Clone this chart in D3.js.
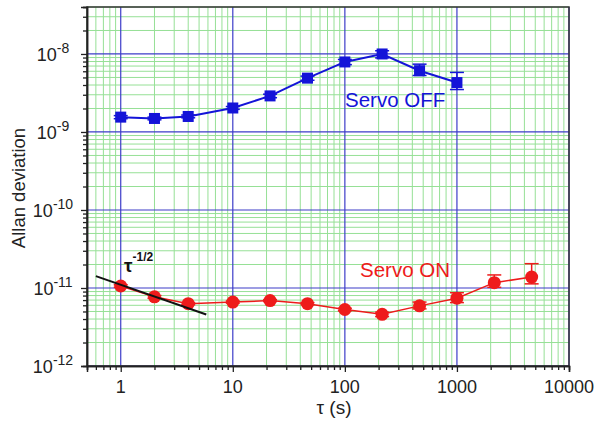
<!DOCTYPE html>
<html>
<head>
<meta charset="utf-8">
<script src="https://cdn.jsdelivr.net/npm/d3@7"></script>
<style>
  body { margin: 0; background: #fff; }
  text { font-family: "Liberation Sans", Arial, sans-serif; }
</style>
</head>
<body>
<div id="chart"></div>
<script>
// averaging times (s)
var tauOff = [1, 2, 4, 10, 21.5, 46.4, 100, 215, 464, 1000];
var devOff = [1.55e-9, 1.49e-9, 1.58e-9, 2.03e-9, 2.9e-9, 4.9e-9, 7.9e-9, 1.0e-8, 6.1e-9, 4.3e-9];
var hiOff  = [1.62e-9, 1.55e-9, 1.65e-9, 2.12e-9, 3.05e-9, 5.2e-9, 8.5e-9, 1.1e-8, 7.4e-9, 5.8e-9];
var loOff  = [1.48e-9, 1.43e-9, 1.52e-9, 1.95e-9, 2.75e-9, 4.6e-9, 7.3e-9, 8.9e-9, 5.3e-9, 3.5e-9];

var tauOn = [1, 2, 4, 10, 21.5, 46.4, 100, 215, 464, 1000, 2154, 4642];
var devOn = [1.06e-11, 7.7e-12, 6.3e-12, 6.6e-12, 6.9e-12, 6.3e-12, 5.3e-12, 4.6e-12, 5.9e-12, 7.4e-12, 1.17e-11, 1.38e-11];
var hiOn  = [1.1e-11, 8.0e-12, 6.5e-12, 6.8e-12, 7.1e-12, 6.5e-12, 5.5e-12, 4.9e-12, 6.6e-12, 8.7e-12, 1.47e-11, 2.05e-11];
var loOn  = [1.02e-11, 7.4e-12, 6.1e-12, 6.4e-12, 6.7e-12, 6.1e-12, 5.1e-12, 4.3e-12, 5.4e-12, 6.5e-12, 1.02e-11, 1.13e-11];

// tau^-1/2 guide line
var slopeTau = [0.6, 5.8];
var slopeA = 1.1e-11;

var xTicks = [1, 10, 100, 1000, 10000];
var yTicks = [1e-12, 1e-11, 1e-10, 1e-9, 1e-8];

var width = 597, height = 424;
var pL = 87, pR = 569, pT = 7, pB = 366;

var svg = d3.select("#chart").append("svg")
    .attr("width", width)
    .attr("height", height);

var x = d3.scaleLog().domain([0.5, 10000]).range([pL, pR]);
var y = d3.scaleLog().domain([1e-12, 4e-8]).range([pB, pT]);

// minor values for grid / ticks
function minors(lo, hi) {
    var out = [];
    for (var e = Math.floor(Math.log10(lo)) - 1; e <= Math.ceil(Math.log10(hi)); e++) {
        for (var k = 2; k <= 9; k++) {
            var v = k * Math.pow(10, e);
            if (v >= lo * 0.999 && v <= hi * 1.001) out.push(v);
        }
    }
    return out;
}
var xMinor = minors(0.5, 10000);
var yMinor = minors(1e-12, 4e-8);

var grid = svg.append("g");
grid.selectAll(".gx").data(xMinor).enter().append("line")
    .attr("x1", d => x(d)).attr("x2", d => x(d))
    .attr("y1", pT).attr("y2", pB)
    .style("stroke", "#96e096").style("stroke-width", 1);
grid.selectAll(".gy").data(yMinor).enter().append("line")
    .attr("y1", d => y(d)).attr("y2", d => y(d))
    .attr("x1", pL).attr("x2", pR)
    .style("stroke", "#96e096").style("stroke-width", 1);
grid.selectAll(".Gx").data(xTicks).enter().append("line")
    .attr("x1", d => x(d)).attr("x2", d => x(d))
    .attr("y1", pT).attr("y2", pB)
    .style("stroke", "#3c3cc8").style("stroke-width", 1.2);
grid.selectAll(".Gy").data(yTicks).enter().append("line")
    .attr("y1", d => y(d)).attr("y2", d => y(d))
    .attr("x1", pL).attr("x2", pR)
    .style("stroke", "#3c3cc8").style("stroke-width", 1.2);

// frame
svg.append("rect")
    .attr("x", pL).attr("y", pT)
    .attr("width", pR - pL).attr("height", pB - pT)
    .style("fill", "none").style("stroke", "#333").style("stroke-width", 1.5);

// axes
var xAxis = d3.axisBottom(x).tickValues(xTicks).tickSize(6).tickFormat("");
var xAxisMinor = d3.axisBottom(x).tickValues(xMinor).tickSize(4).tickFormat("");
svg.append("g").attr("transform", "translate(0," + pB + ")").call(xAxis);
svg.append("g").attr("transform", "translate(0," + pB + ")").call(xAxisMinor);
var yAxis = d3.axisLeft(y).tickValues(yTicks).tickSize(6).tickFormat("");
var yAxisMinor = d3.axisLeft(y).tickValues(yMinor).tickSize(4).tickFormat("");
svg.append("g").attr("transform", "translate(" + pL + ",0)").call(yAxis);
svg.append("g").attr("transform", "translate(" + pL + ",0)").call(yAxisMinor);
svg.selectAll(".domain").style("stroke", "#222").style("stroke-width", 1.5);
svg.selectAll(".tick line").style("stroke", "#222").style("stroke-width", 1.3);

// tick labels
svg.selectAll(".xl").data(xTicks).enter().append("text")
    .attr("x", d => x(d)).attr("y", 393)
    .attr("text-anchor", "middle")
    .style("font-size", "18px").style("fill", "#222")
    .text(d => d);

var yl = svg.selectAll(".yl").data(yTicks).enter().append("text")
    .attr("x", 53).attr("y", d => y(d) + 7)
    .attr("text-anchor", "middle")
    .style("font-size", "18px").style("fill", "#222");
yl.append("tspan").text("10");
yl.append("tspan").attr("dy", -8).style("font-size", "14px")
    .text(d => "-" + Math.round(-Math.log10(d)));

svg.append("text")
    .attr("transform", "translate(25,188) rotate(-90)")
    .attr("text-anchor", "middle")
    .style("font-size", "18.5px").style("fill", "#222")
    .text("Allan deviation");

svg.append("text")
    .attr("x", 334).attr("y", 414)
    .attr("text-anchor", "middle")
    .style("font-size", "19px").style("fill", "#222")
    .text("τ (s)");

// series
function drawSeries(tau, dev, hi, lo, color, lw, marker) {
    var g = svg.append("g");
    var pts = tau.map((t, i) => ({t: t, v: dev[i], hi: hi[i], lo: lo[i]}));
    g.append("path").datum(pts)
        .attr("d", d3.line().x(d => x(d.t)).y(d => y(d.v)))
        .style("fill", "none").style("stroke", color).style("stroke-width", lw);
    g.selectAll(".eb").data(pts).enter().append("line")
        .attr("x1", d => x(d.t)).attr("x2", d => x(d.t))
        .attr("y1", d => y(d.hi)).attr("y2", d => y(d.lo))
        .style("stroke", color).style("stroke-width", 1.5);
    g.selectAll(".ch").data(pts).enter().append("line")
        .attr("x1", d => x(d.t) - 7).attr("x2", d => x(d.t) + 7)
        .attr("y1", d => y(d.hi)).attr("y2", d => y(d.hi))
        .style("stroke", color).style("stroke-width", 1.5);
    g.selectAll(".cl").data(pts).enter().append("line")
        .attr("x1", d => x(d.t) - 7).attr("x2", d => x(d.t) + 7)
        .attr("y1", d => y(d.lo)).attr("y2", d => y(d.lo))
        .style("stroke", color).style("stroke-width", 1.5);
    if (marker == "square") {
        g.selectAll(".m").data(pts).enter().append("rect")
            .attr("x", d => x(d.t) - 5.5).attr("y", d => y(d.v) - 5.5)
            .attr("width", 11).attr("height", 11)
            .style("fill", color);
    } else {
        g.selectAll(".m").data(pts).enter().append("circle")
            .attr("cx", d => x(d.t)).attr("cy", d => y(d.v)).attr("r", 6.5)
            .style("fill", color);
    }
}

drawSeries(tauOff, devOff, hiOff, loOff, "#1414d8", 2, "square");
drawSeries(tauOn, devOn, hiOn, loOn, "#ee1b1b", 1.5, "circle");

// tau^-1/2 line, drawn over the first red markers
svg.append("path").datum(slopeTau)
    .attr("d", d3.line().x(d => x(d)).y(d => y(slopeA / Math.sqrt(d))))
    .style("fill", "none").style("stroke", "#111").style("stroke-width", 2);

// labels
svg.append("text").attr("x", 345).attr("y", 107)
    .style("font-size", "20.5px").style("fill", "#1414d8")
    .text("Servo OFF");
svg.append("text").attr("x", 360).attr("y", 277)
    .style("font-size", "20.5px").style("fill", "#ee1b1b")
    .text("Servo ON");

var tl = svg.append("text").attr("x", 124).attr("y", 272)
    .style("font-size", "19px").style("font-weight", "bold").style("fill", "#111");
tl.append("tspan").text("τ");
tl.append("tspan").attr("dy", -11).style("font-size", "12px").text("-1/2");
</script>
</body>
</html>
